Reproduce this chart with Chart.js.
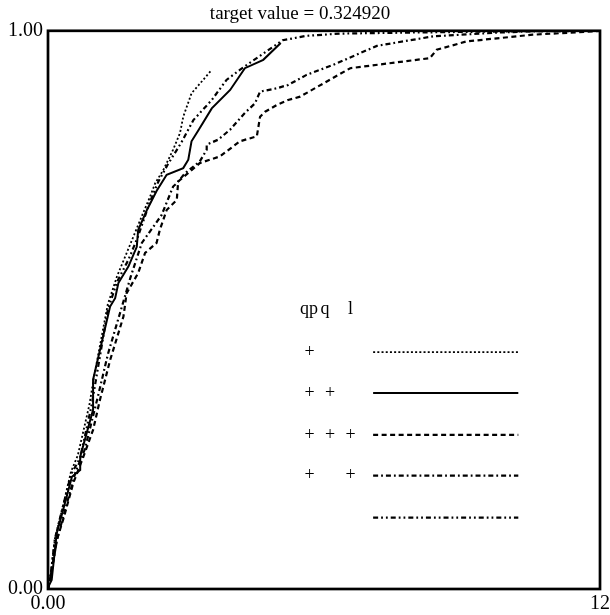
<!DOCTYPE html>
<html>
<head>
<meta charset="utf-8">
<script src="https://cdn.jsdelivr.net/npm/chart.js@4"></script>
<style>
  html, body { margin: 0; padding: 0; background: #fff; }
  #wrap { width: 610px; height: 615px; }
</style>
</head>
<body>
<div id="wrap"><canvas id="chart"></canvas></div>
<script>
// values
const titleText = "target value = 0.324920";
const xTicks = [0, 12];
const yTicks = [0, 1];
const xTickLabels = ["0.00", "12"];
const yTickLabels = ["0.00", "1.00"];

const dottedX = [0, 0.05, 0.15, 0.3, 0.5, 0.65, 0.9, 1.0, 1.3, 1.5, 1.7, 1.9, 2.05, 2.22, 2.33, 2.51, 2.72, 2.87, 2.94, 3.12, 3.56];
const dottedY = [0, 0.02, 0.09, 0.14, 0.21, 0.24, 0.33, 0.38, 0.51, 0.56, 0.6, 0.64, 0.67, 0.703, 0.727, 0.751, 0.787, 0.817, 0.846, 0.888, 0.93];

const solidX = [0, 0.007, 0.08, 0.19, 0.33, 0.52, 0.7, 0.7, 0.98, 0.98, 1.35, 1.46, 1.53, 1.75, 1.93, 1.96, 2.15, 2.36, 2.58, 2.94, 3.05, 3.12, 3.27, 3.56, 3.96, 4.28, 4.68, 5.06];
const solidY = [0, 0.004, 0.016, 0.1, 0.142, 0.201, 0.213, 0.237, 0.321, 0.375, 0.506, 0.521, 0.548, 0.578, 0.613, 0.643, 0.679, 0.713, 0.742, 0.754, 0.769, 0.802, 0.822, 0.861, 0.894, 0.933, 0.948, 0.978];

const dashedX = [0, 0.05, 0.2, 0.35, 0.55, 0.77, 0.98, 1.13, 1.35, 1.64, 1.71, 1.96, 2.11, 2.36, 2.43, 2.58, 2.8, 2.83, 3.3, 3.74, 4.17, 4.54, 4.61, 4.72, 4.97, 5.22, 5.48, 6.57, 8.3, 8.45, 9.1, 10.54, 11.85, 12];
const dashedY = [0, 0.02, 0.09, 0.13, 0.19, 0.237, 0.285, 0.339, 0.41, 0.488, 0.53, 0.566, 0.602, 0.62, 0.643, 0.679, 0.697, 0.73, 0.763, 0.775, 0.802, 0.811, 0.846, 0.855, 0.867, 0.876, 0.882, 0.933, 0.951, 0.966, 0.981, 0.993, 0.999, 1];

const dashDotX = [0, 0.05, 0.2, 0.4, 0.6, 0.8, 0.95, 1.1, 1.3, 1.55, 1.8, 2.04, 2.29, 2.47, 2.72, 2.8, 2.98, 3.3, 3.45, 3.45, 3.7, 3.96, 4.28, 4.5, 4.61, 4.97, 5.22, 5.62, 6.2, 7.15, 8.37, 9.83, 10.54, 12];
const dashDotY = [0, 0.02, 0.09, 0.15, 0.21, 0.25, 0.3, 0.35, 0.42, 0.49, 0.56, 0.62, 0.649, 0.67, 0.721, 0.727, 0.745, 0.766, 0.787, 0.796, 0.805, 0.823, 0.853, 0.87, 0.891, 0.897, 0.903, 0.921, 0.939, 0.973, 0.99, 0.997, 0.999, 1];

const dashDotDotX = [0, 0.05, 0.15, 0.3, 0.5, 0.7, 0.95, 1.3, 1.5, 1.75, 1.95, 2.2, 2.4, 2.6, 2.9, 3.16, 3.56, 3.88, 4.17, 4.43, 5.1, 5.62, 6.35, 8, 10, 12];
const dashDotDotY = [0, 0.02, 0.09, 0.14, 0.205, 0.235, 0.33, 0.5, 0.55, 0.59, 0.63, 0.69, 0.73, 0.76, 0.8, 0.84, 0.876, 0.912, 0.93, 0.945, 0.983, 0.991, 0.995, 0.997, 0.999, 1];

// legend table: which columns get a "+" per row
const legendHeads = ["qp", "q", "l"];
const legendMarks = [
    [true, false, false],
    [true, true, false],
    [true, true, true],
    [true, false, true],
    [false, false, false]
];

const styles = [
    { dash: [2, 2.2], width: 1.8 },
    { dash: [], width: 2 },
    { dash: [5, 3.5], width: 2.2 },
    { dash: [5, 3, 1.8, 3], width: 2.2 },
    { dash: [5, 3, 1.8, 3, 1.8, 3], width: 2.2 }
];

const zip = (xs, ys) => xs.map((x, i) => ({ x, y: ys[i] }));
const seriesData = [
    zip(dottedX, dottedY),
    zip(solidX, solidY),
    zip(dashedX, dashedY),
    zip(dashDotX, dashDotY),
    zip(dashDotDotX, dashDotDotY)
];

const SERIF = "'Liberation Serif', 'DejaVu Serif', serif";

// frame round the plot + the little legend table in the middle
const framePlugin = {
    id: "frame",
    afterDatasetsDraw(c) {
        const a = c.chartArea;
        const ctx = c.ctx;
        ctx.save();
        ctx.strokeStyle = "#000";
        ctx.lineWidth = 2.7;
        ctx.setLineDash([]);
        ctx.strokeRect(a.left, a.top, a.right - a.left, a.bottom - a.top);

        const w = a.right - a.left, h = a.bottom - a.top;
        const colX = [0.474, 0.511, 0.548].map(f => a.left + f * w);
        const rowY = [0.5755, 0.649, 0.724, 0.797, 0.872].map(f => a.top + f * h);
        const lineL = a.left + 0.589 * w, lineR = a.left + 0.852 * w;

        ctx.fillStyle = "#000";
        ctx.font = "18px " + SERIF;
        ctx.textAlign = "center";
        ctx.textBaseline = "middle";
        const headX = [0.473, 0.502, 0.548].map(f => a.left + f * w);
        legendHeads.forEach((t, i) => ctx.fillText(t, headX[i], a.top + 0.498 * h));

        legendMarks.forEach((row, r) => {
            row.forEach((on, k) => { if (on) ctx.fillText("+", colX[k], rowY[r]); });
            const st = styles[r];
            ctx.beginPath();
            ctx.lineWidth = st.width;
            ctx.setLineDash(st.dash);
            ctx.moveTo(lineL, rowY[r]);
            ctx.lineTo(lineR, rowY[r]);
            ctx.stroke();
        });
        ctx.restore();
    }
};

const chart = new Chart(document.getElementById("chart"), {
    type: "scatter",
    data: {
        datasets: seriesData.map((d, i) => ({
            data: d,
            showLine: true,
            borderColor: "#000",
            borderWidth: styles[i].width,
            borderDash: styles[i].dash,
            pointRadius: 0,
            fill: false,
            tension: 0
        }))
    },
    options: {
        responsive: true,
        maintainAspectRatio: false,
        animation: false,
        layout: { padding: { left: 0, right: 10, top: 0, bottom: 0 } },
        plugins: {
            legend: { display: false },
            tooltip: { enabled: false },
            title: {
                display: true,
                text: titleText,
                color: "#000",
                font: { family: SERIF, size: 19, weight: "normal" },
                padding: { top: 3, bottom: 5 }
            }
        },
        scales: {
            x: {
                type: "linear",
                min: 0,
                max: 12,
                afterBuildTicks: s => { s.ticks = xTicks.map(v => ({ value: v })); },
                afterFit: s => { s.height = 26; s.paddingLeft = 0; s.paddingRight = 0; },
                grid: { display: false, drawTicks: false },
                border: { display: false },
                ticks: {
                    color: "#000",
                    padding: 3,
                    maxRotation: 0,
                    autoSkip: false,
                    font: { family: SERIF, size: 20 },
                    callback: v => xTickLabels[xTicks.indexOf(v)]
                }
            },
            y: {
                type: "linear",
                min: 0,
                max: 1,
                afterBuildTicks: s => { s.ticks = yTicks.map(v => ({ value: v })); },
                afterFit: s => { s.width = 48; s.paddingTop = 0; s.paddingBottom = 0; },
                grid: { display: false, drawTicks: false },
                border: { display: false },
                ticks: {
                    color: "#000",
                    padding: 5,
                    autoSkip: false,
                    font: { family: SERIF, size: 20 },
                    callback: v => yTickLabels[yTicks.indexOf(v)]
                }
            }
        }
    },
    plugins: [framePlugin]
});
</script>
</body>
</html>
